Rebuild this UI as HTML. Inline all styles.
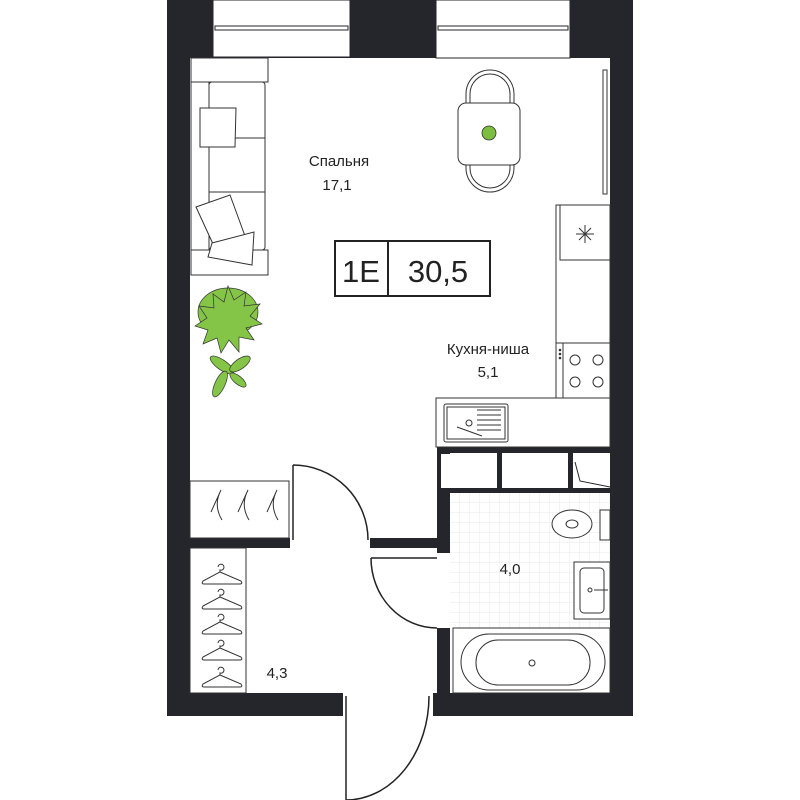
<!DOCTYPE html>
<html><head><meta charset="utf-8"><style>
html,body{margin:0;padding:0;background:#fff}
svg{display:block}
text{font-family:"Liberation Sans",sans-serif;fill:#222}
</style></head><body>
<svg width="800" height="800" viewBox="0 0 800 800" xmlns="http://www.w3.org/2000/svg">
<defs>
<pattern id="tile" width="10" height="10" patternUnits="userSpaceOnUse" x="450" y="493">
<path d="M10 0V10M0 10H10" stroke="#e6e9ec" stroke-width="1" fill="none"/>
</pattern>
</defs>
<rect x="450" y="493" width="160" height="135" fill="url(#tile)"/>
<g fill="#24262b">
<rect x="167" y="0" width="466" height="58"/>
<rect x="167" y="0" width="23" height="716"/>
<rect x="610" y="0" width="23" height="716"/>
<rect x="167" y="693" width="176" height="23"/>
<rect x="433" y="693" width="200" height="23"/>
<rect x="190" y="538" width="100" height="10"/>
<rect x="370" y="538" width="80" height="10"/>
<rect x="437" y="447" width="13" height="106"/>
<rect x="437" y="628" width="13" height="65"/>
<rect x="437" y="447" width="173" height="6"/>
<rect x="497" y="453" width="5" height="35"/>
<rect x="568" y="453" width="5" height="35"/>
<rect x="437" y="488" width="173" height="5"/>
</g>
<g fill="#fff" stroke="#24262b" stroke-width="1">
<rect x="441" y="454" width="55" height="34" stroke="none"/>
<rect x="502" y="454" width="66" height="34" stroke="none"/>
<rect x="574" y="454" width="36" height="34" stroke="none"/>
<path d="M575 462L580 481L610 487" fill="none"/>
</g>
<g fill="#fff" stroke="#24262b" stroke-width="1">
<rect x="213" y="0" width="137" height="57"/>
<rect x="436" y="0" width="134" height="58"/>
<rect x="215" y="26" width="133" height="4"/>
<rect x="438" y="26" width="130" height="4"/>
</g>
<g fill="#fff" stroke="#333" stroke-width="1">
<rect x="191" y="58" width="77" height="24"/>
<rect x="191" y="250" width="77" height="25"/>
<rect x="209" y="82" width="56" height="168" rx="3"/>
<line x1="209" y1="138" x2="265" y2="138"/>
<line x1="209" y1="192" x2="265" y2="192"/>
<rect x="191" y="82" width="18" height="168"/>
<path d="M200 108L236 108L235 147L200 147Z"/>
<path d="M196 207L230 195L245 236L213 244Z"/>
<path d="M212 243L254 232L252 265L208 257Z"/>
</g>
<g fill="#fff" stroke="#333" stroke-width="1">
<path d="M466 94a24 24 0 0 1 48 0V104H466Z" /><path d="M470 104V94a20 20 0 0 1 40 0V104"/>
<path d="M466 168a24 24 0 0 0 48 0V158H466Z"/><path d="M470 158V168a20 20 0 0 0 40 0V158"/>
<rect x="458" y="103" width="62" height="62" rx="8"/>
<rect x="603" y="70" width="4" height="124"/>
</g>
<circle cx="489" cy="133" r="7" fill="#7cbe3f" stroke="#333" stroke-width="0.8"/>
<rect x="335" y="241" width="155" height="55" fill="#fff" stroke="#222" stroke-width="2"/>
<line x1="388" y1="241" x2="388" y2="296" stroke="#222" stroke-width="2"/>
<text x="361" y="282" font-size="31" text-anchor="middle">1E</text>
<text x="438" y="282" font-size="31" text-anchor="middle">30,5</text>
<text x="339" y="166" font-size="15" text-anchor="middle">Спальня</text>
<text x="337" y="190" font-size="15" text-anchor="middle">17,1</text>
<text x="488" y="354" font-size="15" text-anchor="middle">Кухня-ниша</text>
<text x="488" y="377" font-size="15" text-anchor="middle">5,1</text>
<text x="510" y="574" font-size="15" text-anchor="middle">4,0</text>
<text x="277" y="678" font-size="15" text-anchor="middle">4,3</text>
<g fill="#fff" stroke="#333" stroke-width="1">
<rect x="556" y="205" width="54" height="193"/>
<rect x="560" y="205" width="50" height="55"/>
<path d="M585 225v18M576 234h18M579 228l12 12M591 228l-12 12"/>
<line x1="556" y1="343" x2="610" y2="343"/>
<line x1="563" y1="343" x2="563" y2="398"/>
<circle cx="575" cy="360" r="5"/><circle cx="598" cy="360" r="5"/>
<circle cx="575" cy="382" r="5"/><circle cx="598" cy="382" r="5"/>
<rect x="436" y="398" width="174" height="49"/>
<rect x="444" y="404" width="64" height="38" rx="2"/>
<rect x="447" y="407" width="58" height="32"/>
<path d="M477 410h24M477 415h24M477 420h24M477 425h24M477 430h24"/>
<circle cx="469" cy="423" r="3"/>
<path d="M457 427l25 9"/>
</g>
<circle cx="560" cy="350" r="1.3" fill="#333"/><circle cx="560" cy="354" r="1.3" fill="#333"/><circle cx="560" cy="358" r="1.3" fill="#333"/>
<g fill="#84c447" stroke="#333" stroke-width="0.7">
<ellipse cx="228" cy="312" rx="30" ry="24"/>
<path d="M228 286l6 14 12-8-2 14 16-2-10 12 12 8-16 4 8 12-15-3 0 15-10-12-8 13-4-15-14 6 5-14-13-4 12-8-8-12 15 2-1-14 11 8z"/>
<ellipse cx="222" cy="365" rx="14" ry="5" transform="rotate(35 222 365)"/>
<ellipse cx="240" cy="364" rx="12" ry="5" transform="rotate(-35 240 364)"/>
<ellipse cx="220" cy="384" rx="14" ry="5" transform="rotate(-65 220 384)"/>
<ellipse cx="238" cy="380" rx="10" ry="4" transform="rotate(40 238 380)"/>
</g>
<g fill="#fff" stroke="#333" stroke-width="1">
<rect x="190" y="481" width="99" height="57"/>
<path d="M221 490q-8 15 1 30M248 490q-8 15 1 30M277 490q-8 15 1 30M221 490l-10 22M248 490l-10 22M277 490l-10 22" fill="none"/>
<rect x="190" y="548" width="56" height="145" fill="none"/>
</g>
<g fill="none" stroke="#333" stroke-width="1">
<path d="M218 567a3 3 0 1 1 2 3v2l-17 9q-2 3 1 3h36q3 0 1-3l-21-9"/>
<path d="M218 592a3 3 0 1 1 2 3v2l-17 9q-2 3 1 3h36q3 0 1-3l-21-9"/>
<path d="M218 617a3 3 0 1 1 2 3v2l-17 9q-2 3 1 3h36q3 0 1-3l-21-9"/>
<path d="M218 643a3 3 0 1 1 2 3v2l-17 9q-2 3 1 3h36q3 0 1-3l-21-9"/>
<path d="M218 670a3 3 0 1 1 2 3v2l-17 9q-2 3 1 3h36q3 0 1-3l-21-9"/>
</g>
<g fill="none" stroke="#222" stroke-width="1.5">
<path d="M293 465v75"/><path d="M293 465a75 75 0 0 1 75 75"/>
<path d="M371 558h66"/><path d="M371 558a66 70 0 0 0 66 70"/>
<path d="M346 696v104"/><path d="M346 800a83 104 0 0 0 83 -104"/>
</g>
<g fill="#fff" stroke="#333" stroke-width="1">
<rect x="600" y="510" width="10" height="30"/>
<ellipse cx="572" cy="524" rx="20" ry="14"/>
<ellipse cx="572" cy="524" rx="6" ry="4"/>
<rect x="574" y="562" width="36" height="57"/>
<rect x="580" y="568" width="24" height="45" rx="4"/>
<circle cx="590" cy="590" r="2"/><line x1="594" y1="590" x2="608" y2="590"/>
<rect x="453" y="628" width="157" height="65"/>
<rect x="461" y="634" width="144" height="56" rx="28"/>
<rect x="476" y="640" width="114" height="45" rx="22"/>
<circle cx="532" cy="663" r="3"/>
</g>
</svg>
</body></html>
